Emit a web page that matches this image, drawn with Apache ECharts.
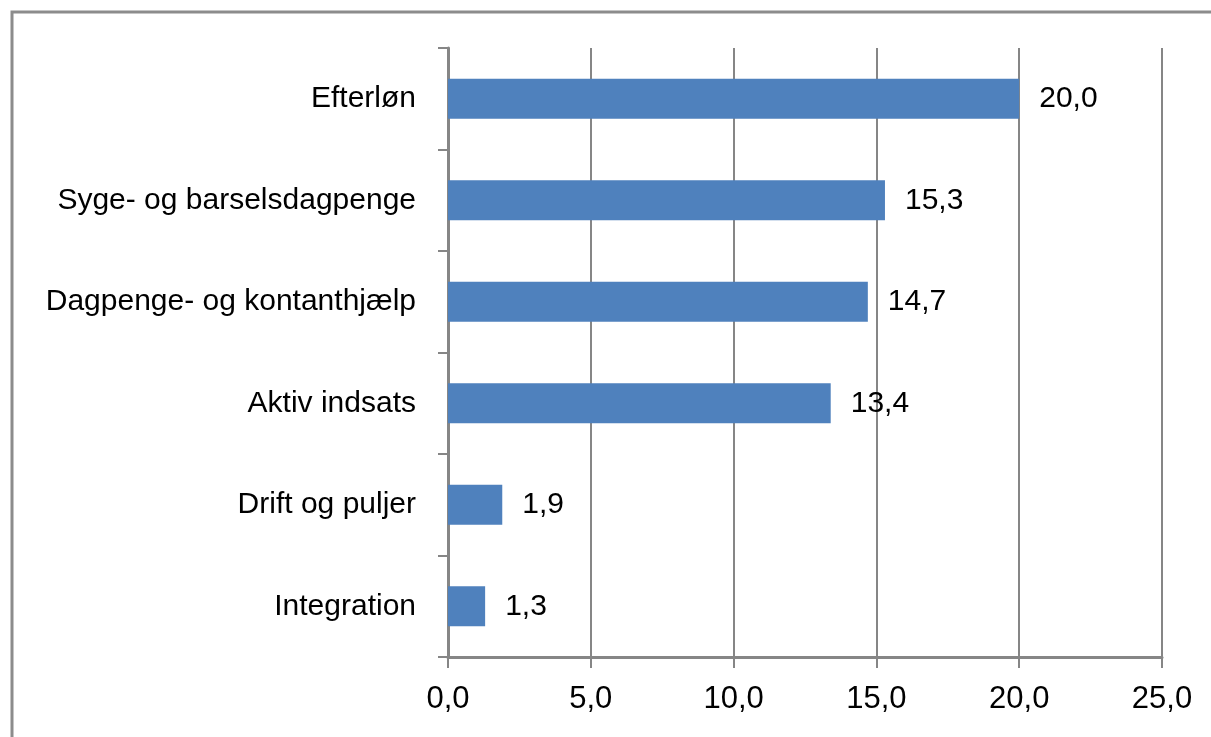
<!DOCTYPE html>
<html>
<head>
<meta charset="utf-8">
<script src="https://cdn.jsdelivr.net/npm/echarts@6/dist/echarts.min.js"></script>
<style>html,body{margin:0;padding:0;background:#fff}#c{width:1211px;height:737px}</style>
</head>
<body>
<div id="c"></div>
<script>
const categories = ["Efterløn", "Syge- og barselsdagpenge", "Dagpenge- og kontanthjælp", "Aktiv indsats", "Drift og puljer", "Integration"];
const values = [20.0, 15.3, 14.7, 13.4, 1.9, 1.3];
const xTicks = { min: 0, max: 25, interval: 5 };

const fmt = v => Number(v).toFixed(1).replace('.', ',');
const chart = echarts.init(document.getElementById('c'));
chart.setOption({
  animation: false,
  backgroundColor: '#fff',
  graphic: [{
    type: 'rect', shape: { x: 12, y: 12, width: 1300, height: 800 },
    style: { fill: 'none', stroke: '#8c8c8c', lineWidth: 3 }, silent: true
  }],
  grid: { left: 448, right: 49, top: 48, bottom: 80, containLabel: false },
  xAxis: {
    type: 'value', min: xTicks.min, max: xTicks.max, interval: xTicks.interval,
    axisLine: { show: true, lineStyle: { color: '#868686', width: 3 } },
    axisTick: { show: true, length: 11, lineStyle: { color: '#868686', width: 2 } },
    splitLine: { show: true, lineStyle: { color: '#868686', width: 2 } },
    axisLabel: { formatter: fmt, fontFamily: 'Liberation Sans', fontSize: 31, color: '#000', margin: 27 }
  },
  yAxis: {
    type: 'category', data: categories, inverse: true,
    axisLine: { show: true, lineStyle: { color: '#868686', width: 3 } },
    axisTick: { show: true, length: 10, alignWithLabel: false, lineStyle: { color: '#868686', width: 2 } },
    axisLabel: { fontFamily: 'Liberation Sans', fontSize: 30, color: '#000', margin: 32 }
  },
  series: [{
    type: 'bar', data: values, barWidth: 40,
    itemStyle: { color: '#4f81bd' },
    label: { show: true, position: 'right', distance: 20, formatter: p => fmt(p.value), fontFamily: 'Liberation Sans', fontSize: 30, color: '#000' }
  }]
});
</script>
</body>
</html>
